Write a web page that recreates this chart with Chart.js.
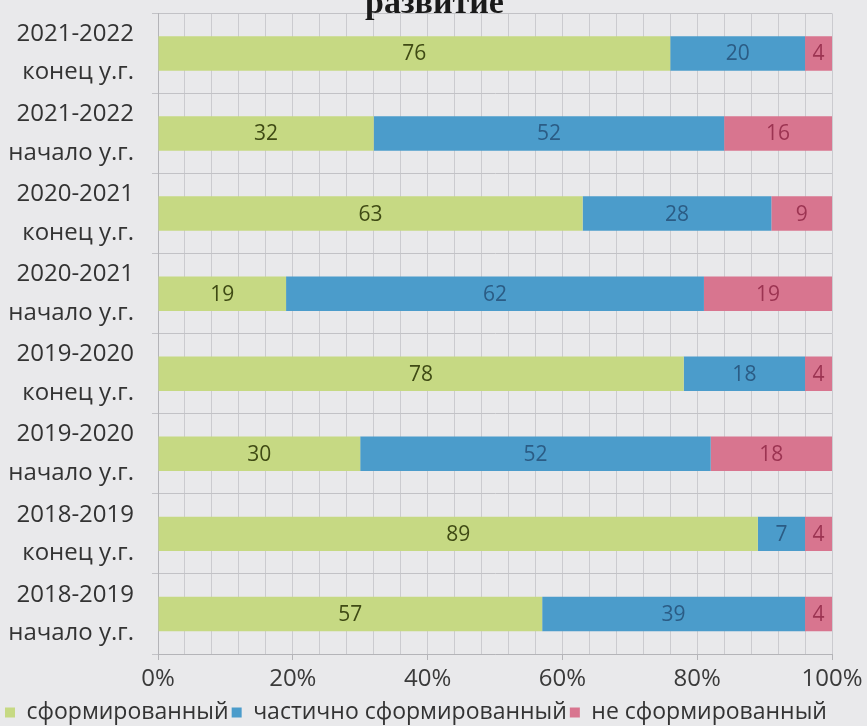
<!DOCTYPE html>
<html>
<head>
<meta charset="utf-8">
<script src="https://cdn.jsdelivr.net/npm/chart.js@4.4.0/dist/chart.umd.min.js"></script>
<style>
  html, body { margin: 0; padding: 0; background: #e9e9eb; overflow: hidden; }
  #wrap { position: absolute; left: 0; top: -43px; width: 867px; height: 777px; }
</style>
</head>
<body>
<div id="wrap"><canvas id="chart"></canvas></div>
<script>
// rows top to bottom
const categories = [
    ['2021-2022', 'конец у.г.'],
    ['2021-2022', 'начало у.г.'],
    ['2020-2021', 'конец у.г.'],
    ['2020-2021', 'начало у.г.'],
    ['2019-2020', 'конец у.г.'],
    ['2019-2020', 'начало у.г.'],
    ['2018-2019', 'конец у.г.'],
    ['2018-2019', 'начало у.г.']
];
const formed = [76, 32, 63, 19, 78, 30, 89, 57];
const partlyFormed = [20, 52, 28, 62, 18, 52, 7, 39];
const notFormed = [4, 16, 9, 19, 4, 18, 4, 4];
const seriesNames = ['сформированный', 'частично сформированный', 'не сформированный'];
const tickLabels = ['0%', '20%', '40%', '60%', '80%', '100%'];

const barColors = ['#c6d983', '#4b9ccb', '#d8758f'];
const labelColors = ['#3f4a14', '#2b5c85', '#9c3452'];
const fontFamily = '"Open Sans", "DejaVu Sans", sans-serif';

// draws the value in the middle of each segment
const valueLabels = {
    id: 'valueLabels',
    afterDatasetsDraw(chart) {
        const ctx = chart.ctx;
        ctx.save();
        ctx.font = '21px ' + fontFamily;
        ctx.textAlign = 'center';
        ctx.textBaseline = 'middle';
        chart.data.datasets.forEach((ds, i) => {
            const meta = chart.getDatasetMeta(i);
            ctx.fillStyle = labelColors[i];
            meta.data.forEach((bar, j) => {
                const left = Math.min(bar.x, bar.base);
                const right = Math.max(bar.x, bar.base);
                ctx.fillText(String(ds.data[j]), (left + right) / 2, bar.y + 1);
            });
        });
        ctx.restore();
    }
};

const isMajor = (c) => c.tick && c.tick.value % 20 === 0;

const ctx = document.getElementById('chart').getContext('2d');
window.myChart = new Chart(ctx, {
    type: 'bar',
    data: {
        labels: categories,
        datasets: [formed, partlyFormed, notFormed].map((vals, i) => ({
            label: seriesNames[i],
            data: vals,
            backgroundColor: barColors[i],
            borderWidth: 0,
            barPercentage: 0.43,
            categoryPercentage: 1
        }))
    },
    options: {
        indexAxis: 'y',
        responsive: true,
        maintainAspectRatio: false,
        animation: false,
        layout: { padding: { left: 2, right: 0, bottom: 0 } },
        scales: {
            x: {
                stacked: true,
                min: 0,
                max: 100,
                afterFit: (scale) => { scale.paddingRight = 35; },
                border: { color: '#b4b4b8' },
                grid: {
                    color: '#cbcbcf',
                    tickColor: (c) => isMajor(c) ? '#b4b4b8' : 'rgba(0,0,0,0)',
                    tickLength: 6
                },
                ticks: {
                    stepSize: 4,
                    autoSkip: false,
                    maxRotation: 0,
                    padding: 7,
                    color: '#3a3a3a',
                    font: { size: 24, family: fontFamily, lineHeight: 1.0 },
                    callback: (v) => (v % 20 === 0) ? tickLabels[v / 20] : ''
                }
            },
            y: {
                stacked: true,
                afterFit: (scale) => { scale.width = 156; },
                border: { display: true, color: '#b4b4b8' },
                grid: { offset: true, color: '#c2c2c6', tickLength: 6 },
                ticks: {
                    autoSkip: false,
                    padding: 18,
                    color: '#333333',
                    font: { size: 24, family: fontFamily, lineHeight: 1.6 }
                }
            }
        },
        plugins: {
            title: {
                display: true,
                text: 'развитие',
                color: '#1a1a1a',
                font: { size: 34, weight: 'bold', family: '"Liberation Serif", "DejaVu Serif", serif' },
                padding: { top: 2, bottom: -11 }
            },
            legend: {
                position: 'bottom',
                align: 'start',
                labels: {
                    boxWidth: 10,
                    boxHeight: 10,
                    padding: 3,
                    color: '#333333',
                    font: { size: 23, family: fontFamily }
                }
            },
            tooltip: { enabled: false }
        }
    },
    plugins: [valueLabels]
});
</script>
</body>
</html>
